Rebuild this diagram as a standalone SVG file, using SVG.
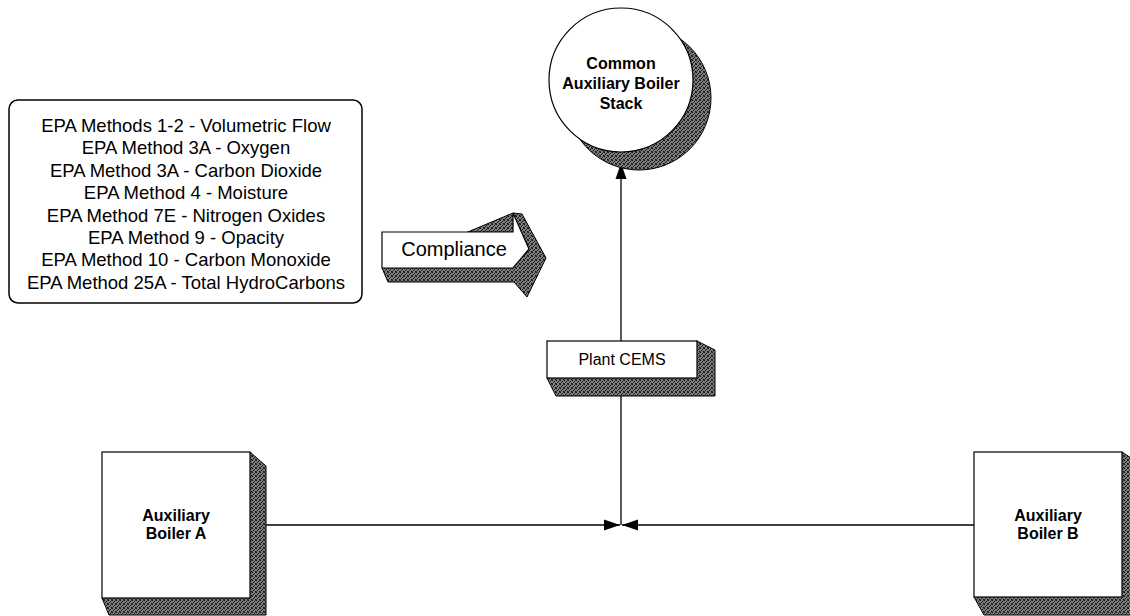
<svg xmlns="http://www.w3.org/2000/svg" width="1130" height="616" viewBox="0 0 1130 616">
  <defs>
    <pattern id="stip" width="4" height="4" patternUnits="userSpaceOnUse">
      <rect width="4" height="4" fill="#808080"/>
      <rect x="0" y="0" width="1" height="1" fill="#111"/>
      <rect x="2" y="1" width="1" height="1" fill="#111"/>
      <rect x="1" y="2" width="1" height="1" fill="#111"/>
      <rect x="3" y="3" width="1" height="1" fill="#111"/>
      <rect x="3" y="0" width="1" height="1" fill="#333"/>
      <rect x="0" y="3" width="1" height="1" fill="#333"/>
    </pattern>
    <marker id="ah" markerWidth="17" markerHeight="12" refX="16" refY="6" orient="auto" markerUnits="userSpaceOnUse">
      <path d="M0,0.5 L16,6 L0,11.5 Z" fill="#000"/>
    </marker>
    <style>
      .face { fill: #fff; stroke: #000; stroke-width: 1.2; }
      .shade { fill: url(#stip); stroke: #000; stroke-width: 1; }
      .conn { fill: none; stroke: #000; stroke-width: 1.3; }
      .list { font-family: "Liberation Sans", Arial, sans-serif; font-size: 18.5px; fill: #000; text-anchor: middle; }
      .lbl { font-family: "Liberation Sans", Arial, sans-serif; font-size: 16px; font-weight: bold; fill: #000; text-anchor: middle; }
      .plain { font-family: "Liberation Sans", Arial, sans-serif; fill: #000; text-anchor: middle; }
    </style>
  </defs>
  <rect width="1130" height="616" fill="#fff"/>

  <g id="connectors">
    <line class="conn" x1="621" y1="341" x2="621" y2="163" marker-end="url(#ah)"/>
    <line class="conn" x1="621" y1="396" x2="621" y2="525"/>
    <line class="conn" x1="250" y1="525" x2="620" y2="525" marker-end="url(#ah)"/>
    <line class="conn" x1="974" y1="525" x2="622" y2="525" marker-end="url(#ah)"/>
  </g>

  <g id="methods-list">
    <rect x="9" y="100" width="353" height="203" rx="9" ry="9" fill="#fff" stroke="#000" stroke-width="1.5"/>
    <text class="list" x="186" y="132">EPA Methods 1-2 - Volumetric Flow</text>
    <text class="list" x="186" y="154.4">EPA Method 3A - Oxygen</text>
    <text class="list" x="186" y="176.8">EPA Method 3A - Carbon Dioxide</text>
    <text class="list" x="186" y="199.2">EPA Method 4 - Moisture</text>
    <text class="list" x="186" y="221.6">EPA Method 7E - Nitrogen Oxides</text>
    <text class="list" x="186" y="244">EPA Method 9 - Opacity</text>
    <text class="list" x="186" y="266.4">EPA Method 10 - Carbon Monoxide</text>
    <text class="list" x="186" y="288.8">EPA Method 25A - Total HydroCarbons</text>
  </g>

  <g id="compliance-arrow">
    <polygon class="shade" points="382,268 388,282 514,282 527,297 546,258 522,214 513,213"/>
    <polygon class="face" points="382,232 513,232 513,213 529,249 513,268 382,268"/>
    <text class="plain" x="454" y="256" font-size="20">Compliance</text>
  </g>

  <g id="stack">
    <circle class="shade" cx="639" cy="98" r="72"/>
    <circle class="face" cx="621" cy="80" r="72"/>
    <text class="lbl" x="621" y="69">Common</text>
    <text class="lbl" x="621" y="89">Auxiliary Boiler</text>
    <text class="lbl" x="621" y="109">Stack</text>
  </g>

  <g id="plant-cems">
    <polygon class="shade" points="547,378 556,396 715,396 715,350 697,341"/>
    <rect class="face" x="547" y="341" width="150" height="37"/>
    <text class="plain" x="622" y="365" font-size="16">Plant CEMS</text>
  </g>

  <g id="boiler-a">
    <polygon class="shade" points="250,452 266,466 266,615 109,615 102,598"/>
    <rect class="face" x="102" y="452" width="148" height="146"/>
    <text class="lbl" x="176" y="521">Auxiliary</text>
    <text class="lbl" x="176" y="539">Boiler A</text>
  </g>

  <g id="boiler-b">
    <polygon class="shade" points="1122,452 1131,458 1131,615 984,615 974,597"/>
    <rect class="face" x="974" y="452" width="148" height="145"/>
    <text class="lbl" x="1048" y="521">Auxiliary</text>
    <text class="lbl" x="1048" y="539">Boiler B</text>
  </g>
</svg>
